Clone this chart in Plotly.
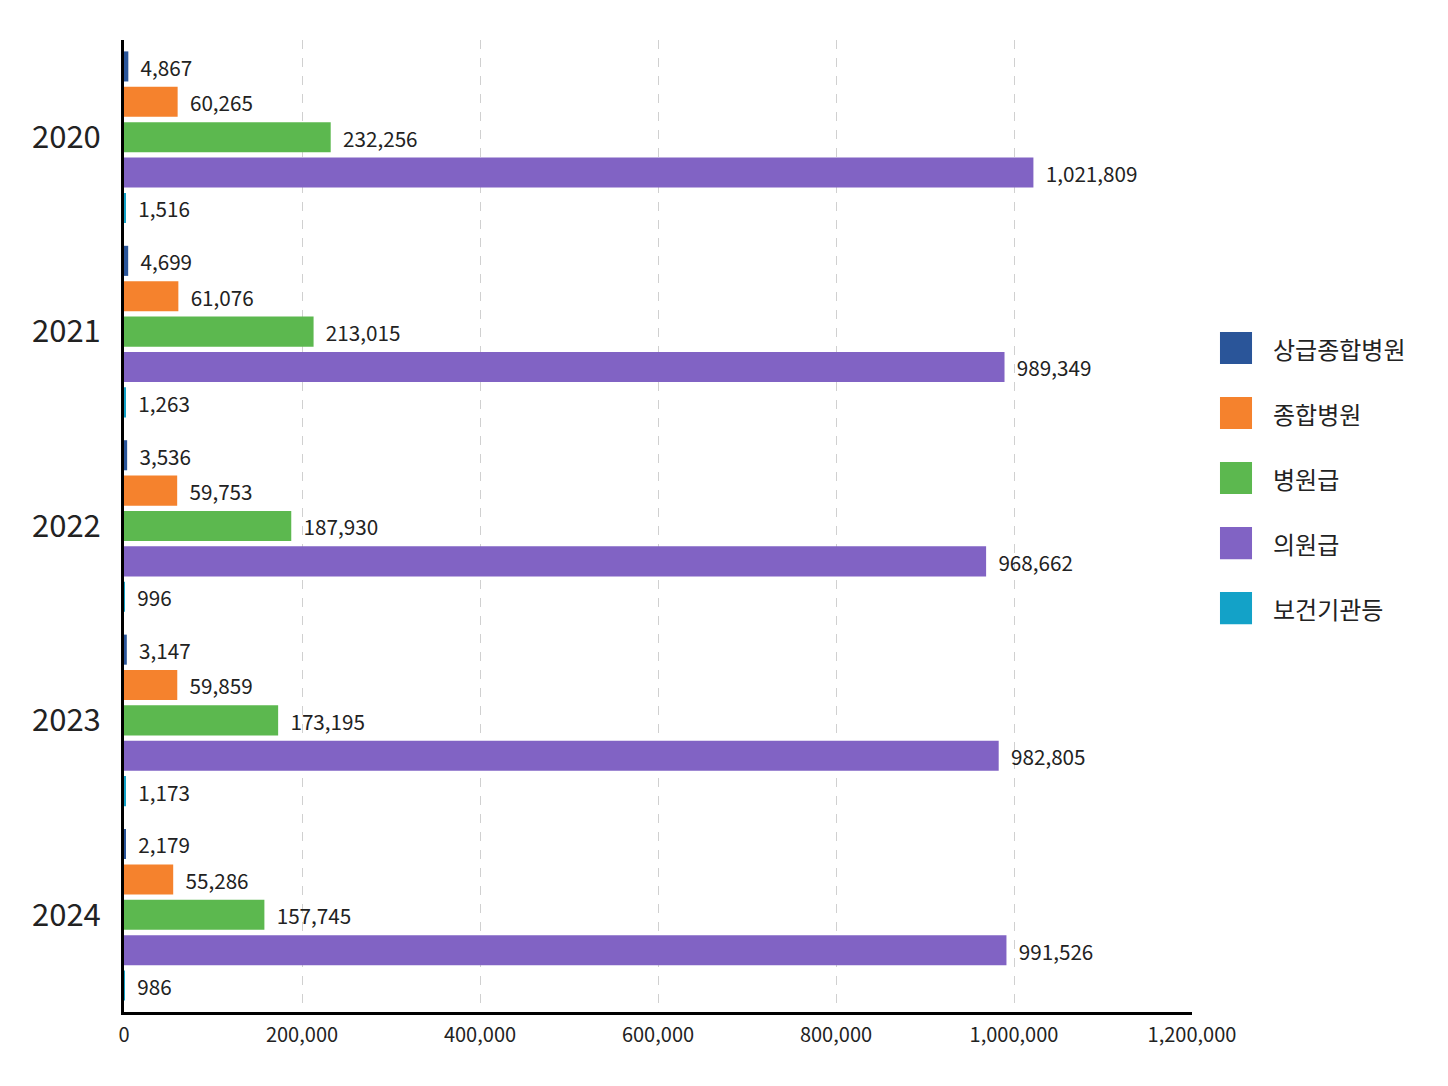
import plotly.graph_objects as go

years = ["2020", "2021", "2022", "2023", "2024"]
series_names = ["상급종합병원", "종합병원", "병원급", "의원급", "보건기관등"]
sanggeup = [4867, 4699, 3536, 3147, 2179]
jonghap = [60265, 61076, 59753, 59859, 55286]
byeongwon = [232256, 213015, 187930, 173195, 157745]
uiwon = [1021809, 989349, 968662, 982805, 991526]
bogeon = [1516, 1263, 996, 1173, 986]
colors = ["#2A5599", "#F5822D", "#5CB84F", "#8163C4", "#13A2C8"]
x_ticks = [0, 200000, 400000, 600000, 800000, 1000000, 1200000]

FONT = "Noto Sans CJK KR, Noto Sans, sans-serif"

fig = go.Figure()
for name, vals, col in zip(series_names, [sanggeup, jonghap, byeongwon, uiwon, bogeon], colors):
    fig.add_trace(go.Bar(
        y=years, x=vals, name=name, orientation="h",
        marker=dict(color=col, line=dict(width=0)),
        texttemplate="  %{x:,}", textposition="outside", cliponaxis=False,
        textfont=dict(size=22, color="#222222", family=FONT),
        showlegend=False,
    ))

# custom legend (large squares)
leg_y0 = 0.6831
leg_step = 0.0669
for i, (name, col) in enumerate(zip(series_names, colors)):
    yc = leg_y0 - i * leg_step
    fig.add_shape(type="rect", xref="paper", yref="paper",
                  x0=1.0262, x1=1.0562, y0=yc - 0.0165, y1=yc + 0.0165,
                  fillcolor=col, line=dict(width=0))
    fig.add_annotation(xref="paper", yref="paper", x=1.0740, y=yc,
                       text=name, showarrow=False, xanchor="left", yanchor="middle",
                       font=dict(size=24, color="#222222", family=FONT))

fig.update_layout(
    width=1448, height=1086,
    margin=dict(l=116, r=264, t=32, b=82),
    paper_bgcolor="white", plot_bgcolor="white",
    barmode="group", bargap=0.09, bargroupgap=0.15,
    font=dict(family=FONT, color="#222222"),
    xaxis=dict(range=[0, 1200000], tickvals=x_ticks, tickformat=",",
               showgrid=True, gridcolor="#d0d0d0", griddash="dash", gridwidth=1,
               showline=True, linecolor="black", linewidth=3,
               zeroline=False, ticks="", ticklabelstandoff=3,
               tickfont=dict(size=20, color="#222222")),
    yaxis=dict(autorange="reversed", showgrid=False,
               showline=True, linecolor="black", linewidth=3,
               ticks="", ticklabelstandoff=14,
               tickfont=dict(size=31, color="#222222")),
)

fig.write_html("out.html")
